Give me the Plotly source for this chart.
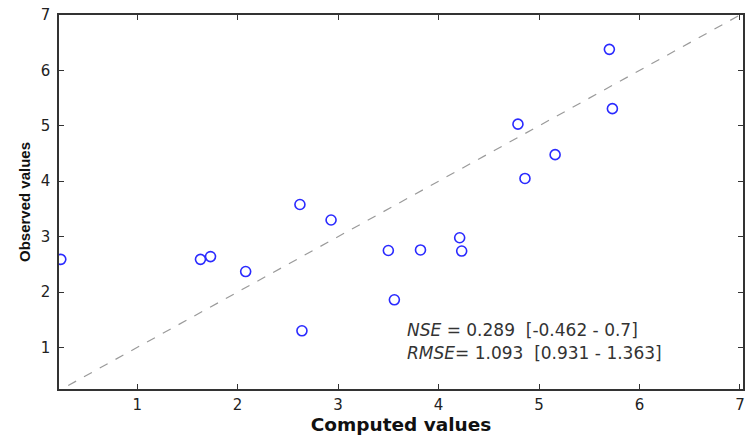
import plotly.graph_objects as go

# Computed vs observed values
computed = [0.24, 1.63, 1.73, 2.08, 2.62, 2.93, 3.50, 3.82, 4.21, 4.23,
            3.56, 2.64, 4.79, 4.86, 5.16, 5.70, 5.73]
observed = [2.59, 2.59, 2.64, 2.37, 3.58, 3.30, 2.75, 2.76, 2.98, 2.74,
            1.86, 1.30, 5.03, 4.05, 4.48, 6.38, 5.31]

# 1:1 reference line
ref_line = [0, 7]
tick_vals = [1, 2, 3, 4, 5, 6, 7]

nse_text = "<i>NSE</i> = 0.289\u00a0\u00a0[-0.462 - 0.7]"
rmse_text = "<i>RMSE</i>= 1.093\u00a0\u00a0[0.931 - 1.363]"

wide_font = "DejaVu Sans, Verdana, sans-serif"
narrow_font = "Liberation Sans, Arial, sans-serif"
axis_color = "#333333"

fig = go.Figure()
fig.add_trace(go.Scatter(
    x=ref_line, y=ref_line, mode="lines",
    line=dict(color="#9a9a9a", width=1.2, dash="dash"),
    showlegend=False, hoverinfo="skip",
))
fig.add_trace(go.Scatter(
    x=computed, y=observed, mode="markers",
    marker=dict(symbol="circle-open", size=10, color="#2a2aff",
                line=dict(width=1.6, color="#2a2aff")),
    showlegend=False,
))

axis_common = dict(
    showline=True, linecolor=axis_color, linewidth=1.6, mirror="allticks",
    ticks="inside", ticklen=5, tickwidth=1.2, tickcolor=axis_color,
    showgrid=False, zeroline=False, tickvals=tick_vals,
    tickfont=dict(family=wide_font, size=15, color="#222222"),
)

fig.update_layout(
    width=745, height=435,
    margin=dict(l=59, r=0, t=15, b=46),
    paper_bgcolor="white", plot_bgcolor="white",
    xaxis=dict(range=[0.222, 7.03], ticklabelstandoff=1,
               title=dict(text="<b>Computed values</b>", standoff=3,
                          font=dict(family=wide_font, size=18.5, color="#111111")),
               **axis_common),
    yaxis=dict(range=[0.25, 7.0], ticklabelstandoff=4,
               title=dict(text="<b>Observed values</b>", standoff=6,
                          font=dict(family=narrow_font, size=15, color="#111111")),
               **axis_common),
    annotations=[
        dict(x=3.67, y=1.32, xref="x", yref="y", text=nse_text, showarrow=False,
             xanchor="left", yanchor="middle",
             font=dict(family=wide_font, size=17, color="#333333")),
        dict(x=3.67, y=0.905, xref="x", yref="y", text=rmse_text, showarrow=False,
             xanchor="left", yanchor="middle",
             font=dict(family=wide_font, size=17, color="#333333")),
    ],
)

fig.write_html("out.html")
